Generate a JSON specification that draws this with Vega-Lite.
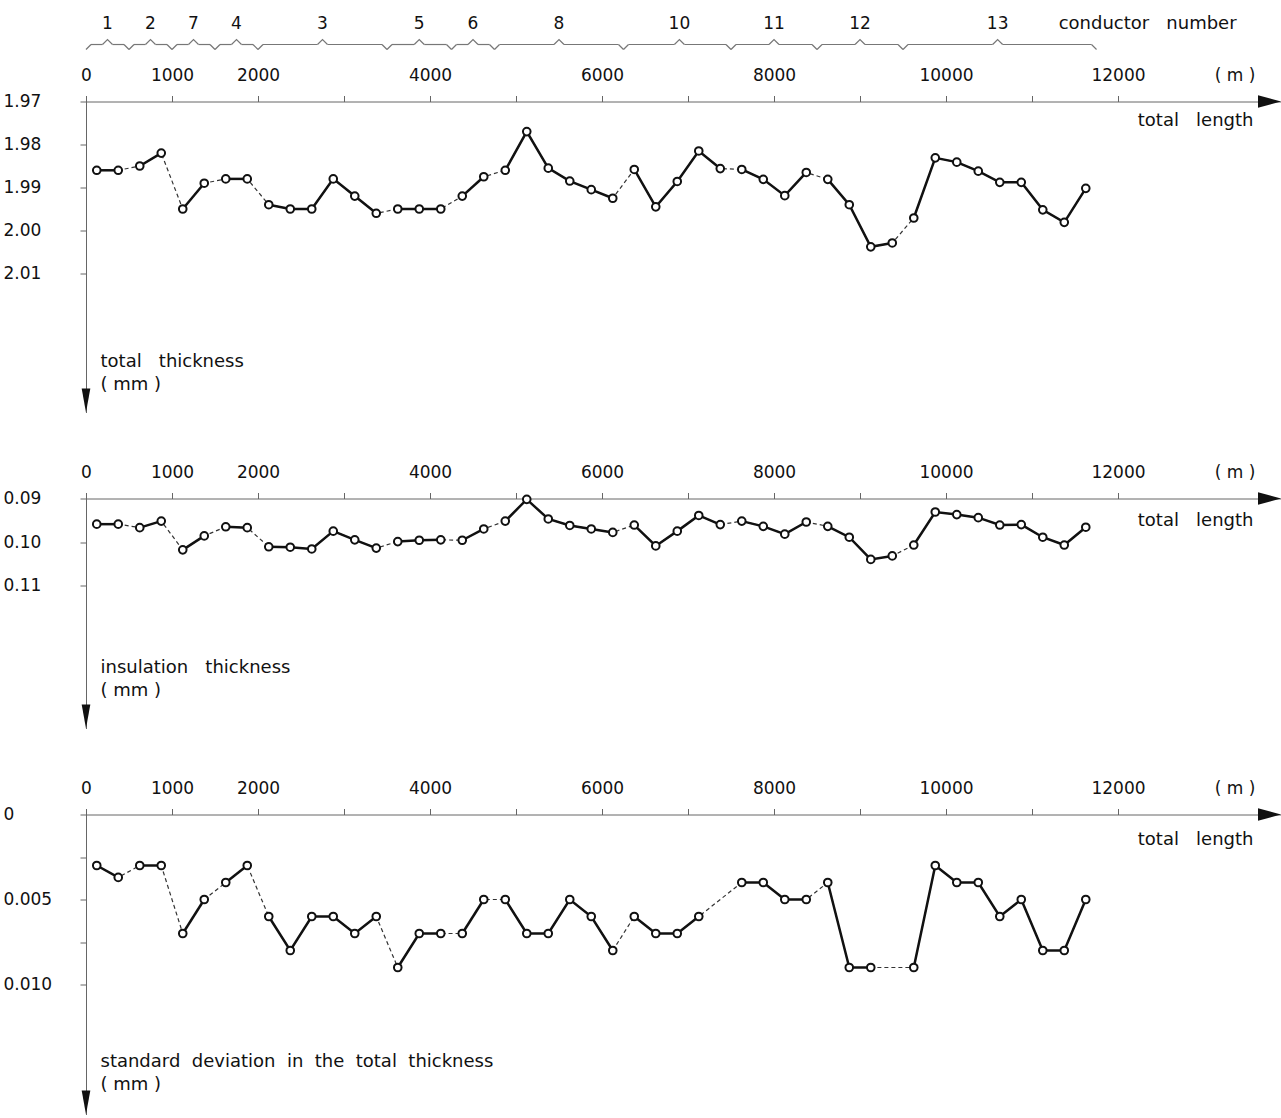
{
  "$schema": "https://vega.github.io/schema/vega-lite/v6.json",
  "padding": {"top": 14.5, "left": 3, "right": 0, "bottom": 0},
  "bounds": "flush",
  "spacing": 86,
  "config": {
    "view": {"stroke": null},
    "font": "DejaVu Sans",
    "axis": {
      "grid": false,
      "labelFont": "DejaVu Sans",
      "labelFontSize": 17,
      "labelColor": "#111",
      "titleFont": "DejaVu Sans",
      "titleFontSize": 18,
      "titleFontWeight": "normal",
      "titleColor": "#111",
      "domainColor": "#666",
      "tickColor": "#666",
      "tickSize": 6,
      "labelOverlap": false,
      "labelFlush": false,
      "labelBound": false
    }
  },
  "datasets": {
    "m": [
      {"len": 125, "cond": "1", "tt": 1.986, "ins": 0.0959, "sd": 0.003},
      {"len": 375, "cond": "1", "tt": 1.986, "ins": 0.0959, "sd": 0.0037},
      {"len": 625, "cond": "2", "tt": 1.985, "ins": 0.0967, "sd": 0.003},
      {"len": 875, "cond": "2", "tt": 1.982, "ins": 0.0952, "sd": 0.003},
      {"len": 1125, "cond": "7", "tt": 1.995, "ins": 0.1018, "sd": 0.007},
      {"len": 1375, "cond": "7", "tt": 1.989, "ins": 0.0986, "sd": 0.005},
      {"len": 1625, "cond": "4", "tt": 1.988, "ins": 0.0965, "sd": 0.004},
      {"len": 1875, "cond": "4", "tt": 1.988, "ins": 0.0967, "sd": 0.003},
      {"len": 2125, "cond": "3", "tt": 1.994, "ins": 0.1011, "sd": 0.006},
      {"len": 2375, "cond": "3", "tt": 1.995, "ins": 0.1012, "sd": 0.008},
      {"len": 2625, "cond": "3", "tt": 1.995, "ins": 0.1016, "sd": 0.006},
      {"len": 2875, "cond": "3", "tt": 1.988, "ins": 0.0975, "sd": 0.006},
      {"len": 3125, "cond": "3", "tt": 1.992, "ins": 0.0995, "sd": 0.007},
      {"len": 3375, "cond": "3", "tt": 1.996, "ins": 0.1014, "sd": 0.006},
      {"len": 3625, "cond": "5", "tt": 1.995, "ins": 0.0999, "sd": 0.009},
      {"len": 3875, "cond": "5", "tt": 1.995, "ins": 0.0996, "sd": 0.007},
      {"len": 4125, "cond": "5", "tt": 1.995, "ins": 0.0995, "sd": 0.007},
      {"len": 4375, "cond": "6", "tt": 1.992, "ins": 0.0996, "sd": 0.007},
      {"len": 4625, "cond": "6", "tt": 1.9875, "ins": 0.097, "sd": 0.005},
      {"len": 4875, "cond": "8", "tt": 1.986, "ins": 0.0952, "sd": 0.005},
      {"len": 5125, "cond": "8", "tt": 1.977, "ins": 0.0902, "sd": 0.007},
      {"len": 5375, "cond": "8", "tt": 1.9855, "ins": 0.0947, "sd": 0.007},
      {"len": 5625, "cond": "8", "tt": 1.9885, "ins": 0.0962, "sd": 0.005},
      {"len": 5875, "cond": "8", "tt": 1.9905, "ins": 0.097, "sd": 0.006},
      {"len": 6125, "cond": "8", "tt": 1.9925, "ins": 0.0978, "sd": 0.008},
      {"len": 6375, "cond": "10", "tt": 1.9858, "ins": 0.0961, "sd": 0.006},
      {"len": 6625, "cond": "10", "tt": 1.9945, "ins": 0.1009, "sd": 0.007},
      {"len": 6875, "cond": "10", "tt": 1.9886, "ins": 0.0975, "sd": 0.007},
      {"len": 7125, "cond": "10", "tt": 1.9815, "ins": 0.0939, "sd": 0.006},
      {"len": 7375, "cond": "10", "tt": 1.9856, "ins": 0.096, "sd": null},
      {"len": 7625, "cond": "11", "tt": 1.9858, "ins": 0.0952, "sd": 0.004},
      {"len": 7875, "cond": "11", "tt": 1.9881, "ins": 0.0964, "sd": 0.004},
      {"len": 8125, "cond": "11", "tt": 1.9919, "ins": 0.0982, "sd": 0.005},
      {"len": 8375, "cond": "11", "tt": 1.9865, "ins": 0.0954, "sd": 0.005},
      {"len": 8625, "cond": "12", "tt": 1.9881, "ins": 0.0964, "sd": 0.004},
      {"len": 8875, "cond": "12", "tt": 1.994, "ins": 0.0989, "sd": 0.009},
      {"len": 9125, "cond": "12", "tt": 2.0038, "ins": 0.104, "sd": 0.009},
      {"len": 9375, "cond": "12", "tt": 2.0029, "ins": 0.1032, "sd": null},
      {"len": 9625, "cond": "13", "tt": 1.9971, "ins": 0.1007, "sd": 0.009},
      {"len": 9875, "cond": "13", "tt": 1.9831, "ins": 0.0931, "sd": 0.003},
      {"len": 10125, "cond": "13", "tt": 1.9841, "ins": 0.0937, "sd": 0.004},
      {"len": 10375, "cond": "13", "tt": 1.9862, "ins": 0.0944, "sd": 0.004},
      {"len": 10625, "cond": "13", "tt": 1.9888, "ins": 0.0961, "sd": 0.006},
      {"len": 10875, "cond": "13", "tt": 1.9888, "ins": 0.096, "sd": 0.005},
      {"len": 11125, "cond": "13", "tt": 1.9952, "ins": 0.0989, "sd": 0.008},
      {"len": 11375, "cond": "13", "tt": 1.9981, "ins": 0.1007, "sd": 0.008},
      {"len": 11625, "cond": "13", "tt": 1.9902, "ins": 0.0966, "sd": 0.005}
    ],
    "cond": [
      {"c": "1", "start": 0, "end": 500, "mid": 250},
      {"c": "2", "start": 500, "end": 1000, "mid": 750},
      {"c": "7", "start": 1000, "end": 1500, "mid": 1250},
      {"c": "4", "start": 1500, "end": 2000, "mid": 1750},
      {"c": "3", "start": 2000, "end": 3500, "mid": 2750},
      {"c": "5", "start": 3500, "end": 4250, "mid": 3875},
      {"c": "6", "start": 4250, "end": 4750, "mid": 4500},
      {"c": "8", "start": 4750, "end": 6250, "mid": 5500},
      {"c": "10", "start": 6250, "end": 7500, "mid": 6900},
      {"c": "11", "start": 7500, "end": 8500, "mid": 8000},
      {"c": "12", "start": 8500, "end": 9500, "mid": 9000},
      {"c": "13", "start": 9500, "end": 11750, "mid": 10600}
    ]
  },
  "vconcat": [
    {
      "width": 1195,
      "height": 311,
      "resolve": {"scale": {"y": "independent"}},
      "layer": [
        {
          "data": {"name": "m"},
          "layer": [
            {
              "mark": {"type": "line", "color": "#333", "strokeWidth": 1.2, "strokeDash": [4, 3]},
              "encoding": {
                "x": {"field": "len", "type": "quantitative", "scale": {"domain": [0, 13895], "nice": false, "zero": false},
                  "axis": {"orient": "top", "values": [0, 1000, 2000, 3000, 4000, 5000, 6000, 7000, 8000, 9000, 10000, 11000, 12000, 13356],
                    "labelExpr": "datum.value == 13356 ? '(\u00a0m\u00a0)' : ((datum.value == 0 || datum.value == 1000 || datum.value % 2000 == 0) ? format(datum.value, 'd') : '')",
                    "tickOpacity": {"condition": {"test": "datum.value > 12500", "value": 0}, "value": 1},
                    "labelBaseline": "middle", "labelPadding": 20,
                    "title": "total\u00a0\u00a0\u00a0length", "titleX": 1167, "titleY": 19, "titleAlign": "right", "titleBaseline": "middle", "titleAngle": 0}},
                "y": {"field": "tt", "type": "quantitative", "scale": {"domain": [1.97, 2.04233], "reverse": true, "nice": false, "zero": false},
                  "axis": {"orient": "left", "values": [1.97, 1.98, 1.99, 2.0, 2.01], "format": ".2f", "labelAlign": "left", "labelBaseline": "middle", "labelPadding": 77,
                    "title": ["total\u00a0\u00a0\u00a0thickness", "(\u00a0mm\u00a0)"], "titleX": 14, "titleY": 251, "titleAlign": "left", "titleBaseline": "top", "titleAngle": 0, "titleLineHeight": 23}}
              }
            },
            {
              "mark": {"type": "line", "color": "#111", "strokeWidth": 2.5},
              "encoding": {
                "x": {"field": "len", "type": "quantitative"},
                "y": {"field": "tt", "type": "quantitative"},
                "detail": {"field": "cond"}
              }
            },
            {
              "mark": {"type": "point", "shape": "circle", "filled": true, "fill": "white", "stroke": "#111", "strokeWidth": 2, "size": 58, "opacity": 1},
              "encoding": {
                "x": {"field": "len", "type": "quantitative"},
                "y": {"field": "tt", "type": "quantitative"}
              }
            },
            {
              "data": {"values": [{}]},
              "mark": {"type": "point", "shape": "M0,0L-1,-0.27L-1,0.27Z", "filled": true, "color": "#111", "size": 2116, "opacity": 1},
              "encoding": {
                "x": {"datum": 13895, "type": "quantitative"},
                "y": {"datum": 1.97, "type": "quantitative"}
              }
            },
            {
              "data": {"values": [{}]},
              "mark": {"type": "point", "shape": "M0,0L-0.18,-1L0.18,-1Z", "filled": true, "color": "#111", "size": 2304, "opacity": 1},
              "encoding": {
                "x": {"datum": 0, "type": "quantitative"},
                "y": {"datum": 2.04233, "type": "quantitative"}
              }
            }
          ]
        },
        {
          "data": {"name": "cond"},
          "layer": [
            {
              "mark": {"type": "rule", "color": "#777", "strokeWidth": 1.2, "xOffset": 5, "x2Offset": -5},
              "encoding": {
                "x": {"field": "start", "type": "quantitative"},
                "x2": {"field": "mid"},
                "y": {"datum": 0.233, "type": "quantitative", "scale": {"domain": [0, 1], "range": [-50, -80]}, "axis": null}
              }
            },
            {
              "mark": {"type": "rule", "color": "#777", "strokeWidth": 1.2, "xOffset": 5, "x2Offset": -5},
              "encoding": {
                "x": {"field": "mid", "type": "quantitative"},
                "x2": {"field": "end"},
                "y": {"datum": 0.233, "type": "quantitative"}
              }
            },
            {
              "mark": {"type": "point", "shape": "M0,0L1,-1", "filled": false, "color": "#777", "strokeWidth": 1.2, "size": 100, "opacity": 1},
              "encoding": {
                "x": {"field": "start", "type": "quantitative"},
                "y": {"datum": 0.0667, "type": "quantitative"}
              }
            },
            {
              "mark": {"type": "point", "shape": "M0,0L-1,-1", "filled": false, "color": "#777", "strokeWidth": 1.2, "size": 100, "opacity": 1},
              "encoding": {
                "x": {"field": "end", "type": "quantitative"},
                "y": {"datum": 0.0667, "type": "quantitative"}
              }
            },
            {
              "mark": {"type": "point", "shape": "M-1,0L0,-1L1,0", "filled": false, "color": "#777", "strokeWidth": 1.2, "size": 100, "opacity": 1},
              "encoding": {
                "x": {"field": "mid", "type": "quantitative"},
                "y": {"datum": 0.233, "type": "quantitative"}
              }
            },
            {
              "mark": {"type": "text", "font": "DejaVu Sans", "fontSize": 17, "color": "#111", "baseline": "middle", "align": "center"},
              "encoding": {
                "x": {"field": "mid", "type": "quantitative"},
                "y": {"datum": 0.933, "type": "quantitative"},
                "text": {"field": "c"}
              }
            },
            {
              "data": {"values": [{}]},
              "mark": {"type": "text", "font": "DejaVu Sans", "fontSize": 18, "color": "#111", "baseline": "middle", "align": "center", "text": "conductor\u00a0\u00a0\u00a0number"},
              "encoding": {
                "x": {"datum": 12344, "type": "quantitative"},
                "y": {"datum": 0.933, "type": "quantitative"}
              }
            }
          ]
        }
      ]
    },
    {
      "width": 1195,
      "height": 230,
      "data": {"name": "m"},
      "layer": [
        {
          "mark": {"type": "line", "color": "#333", "strokeWidth": 1.2, "strokeDash": [4, 3]},
          "encoding": {
            "x": {"field": "len", "type": "quantitative", "scale": {"domain": [0, 13895], "nice": false, "zero": false},
              "axis": {"orient": "top", "values": [0, 1000, 2000, 3000, 4000, 5000, 6000, 7000, 8000, 9000, 10000, 11000, 12000, 13356],
                "labelExpr": "datum.value == 13356 ? '(\u00a0m\u00a0)' : ((datum.value == 0 || datum.value == 1000 || datum.value % 2000 == 0) ? format(datum.value, 'd') : '')",
                "tickOpacity": {"condition": {"test": "datum.value > 12500", "value": 0}, "value": 1},
                "labelBaseline": "middle", "labelPadding": 20,
                "title": "total\u00a0\u00a0\u00a0length", "titleX": 1167, "titleY": 22, "titleAlign": "right", "titleBaseline": "middle", "titleAngle": 0}},
            "y": {"field": "ins", "type": "quantitative", "scale": {"domain": [0.09, 0.14287], "reverse": true, "nice": false, "zero": false},
              "axis": {"orient": "left", "values": [0.09, 0.1, 0.11], "format": ".2f", "labelAlign": "left", "labelBaseline": "middle", "labelPadding": 77,
                "title": ["insulation\u00a0\u00a0\u00a0thickness", "(\u00a0mm\u00a0)"], "titleX": 14, "titleY": 160, "titleAlign": "left", "titleBaseline": "top", "titleAngle": 0, "titleLineHeight": 23}}
          }
        },
        {
          "mark": {"type": "line", "color": "#111", "strokeWidth": 2.5},
          "encoding": {
            "x": {"field": "len", "type": "quantitative"},
            "y": {"field": "ins", "type": "quantitative"},
            "detail": {"field": "cond"}
          }
        },
        {
          "mark": {"type": "point", "shape": "circle", "filled": true, "fill": "white", "stroke": "#111", "strokeWidth": 2, "size": 58, "opacity": 1},
          "encoding": {
            "x": {"field": "len", "type": "quantitative"},
            "y": {"field": "ins", "type": "quantitative"}
          }
        },
        {
          "data": {"values": [{}]},
          "mark": {"type": "point", "shape": "M0,0L-1,-0.27L-1,0.27Z", "filled": true, "color": "#111", "size": 2116, "opacity": 1},
          "encoding": {
            "x": {"datum": 13895, "type": "quantitative"},
            "y": {"datum": 0.09, "type": "quantitative"}
          }
        },
        {
          "data": {"values": [{}]},
          "mark": {"type": "point", "shape": "M0,0L-0.18,-1L0.18,-1Z", "filled": true, "color": "#111", "size": 2304, "opacity": 1},
          "encoding": {
            "x": {"datum": 0, "type": "quantitative"},
            "y": {"datum": 0.14287, "type": "quantitative"}
          }
        }
      ]
    },
    {
      "width": 1195,
      "height": 300,
      "data": {"name": "m"},
      "layer": [
        {
          "transform": [{"filter": {"field": "sd", "valid": true}}],
          "mark": {"type": "line", "color": "#333", "strokeWidth": 1.2, "strokeDash": [4, 3]},
          "encoding": {
            "x": {"field": "len", "type": "quantitative", "scale": {"domain": [0, 13895], "nice": false, "zero": false},
              "axis": {"orient": "top", "values": [0, 1000, 2000, 3000, 4000, 5000, 6000, 7000, 8000, 9000, 10000, 11000, 12000, 13356],
                "labelExpr": "datum.value == 13356 ? '(\u00a0m\u00a0)' : ((datum.value == 0 || datum.value == 1000 || datum.value % 2000 == 0) ? format(datum.value, 'd') : '')",
                "tickOpacity": {"condition": {"test": "datum.value > 12500", "value": 0}, "value": 1},
                "labelBaseline": "middle", "labelPadding": 20,
                "title": "total\u00a0\u00a0\u00a0length", "titleX": 1167, "titleY": 25, "titleAlign": "right", "titleBaseline": "middle", "titleAngle": 0}},
            "y": {"field": "sd", "type": "quantitative", "scale": {"domain": [0, 0.017647], "reverse": true, "nice": false, "zero": false},
              "axis": {"orient": "left", "values": [0, 0.0025, 0.005, 0.0075, 0.01],
                "labelExpr": "datum.value == 0 ? '0' : (datum.value == 0.005 ? '0.005' : (datum.value == 0.01 ? '0.010' : ''))",
                "labelAlign": "left", "labelBaseline": "middle", "labelPadding": 77,
                "title": ["standard\u00a0\u00a0deviation\u00a0\u00a0in\u00a0\u00a0the\u00a0\u00a0total\u00a0\u00a0thickness", "(\u00a0mm\u00a0)"], "titleX": 14, "titleY": 238, "titleAlign": "left", "titleBaseline": "top", "titleAngle": 0, "titleLineHeight": 23}}
          }
        },
        {
          "transform": [{"filter": {"field": "sd", "valid": true}}],
          "mark": {"type": "line", "color": "#111", "strokeWidth": 2.5},
          "encoding": {
            "x": {"field": "len", "type": "quantitative"},
            "y": {"field": "sd", "type": "quantitative"},
            "detail": {"field": "cond"}
          }
        },
        {
          "transform": [{"filter": {"field": "sd", "valid": true}}],
          "mark": {"type": "point", "shape": "circle", "filled": true, "fill": "white", "stroke": "#111", "strokeWidth": 2, "size": 58, "opacity": 1},
          "encoding": {
            "x": {"field": "len", "type": "quantitative"},
            "y": {"field": "sd", "type": "quantitative"}
          }
        },
        {
          "data": {"values": [{}]},
          "mark": {"type": "point", "shape": "M0,0L-1,-0.27L-1,0.27Z", "filled": true, "color": "#111", "size": 2116, "opacity": 1},
          "encoding": {
            "x": {"datum": 13895, "type": "quantitative"},
            "y": {"datum": 0, "type": "quantitative"}
          }
        },
        {
          "data": {"values": [{}]},
          "mark": {"type": "point", "shape": "M0,0L-0.18,-1L0.18,-1Z", "filled": true, "color": "#111", "size": 2304, "opacity": 1},
          "encoding": {
            "x": {"datum": 0, "type": "quantitative"},
            "y": {"datum": 0.017647, "type": "quantitative"}
          }
        }
      ]
    }
  ]
}
